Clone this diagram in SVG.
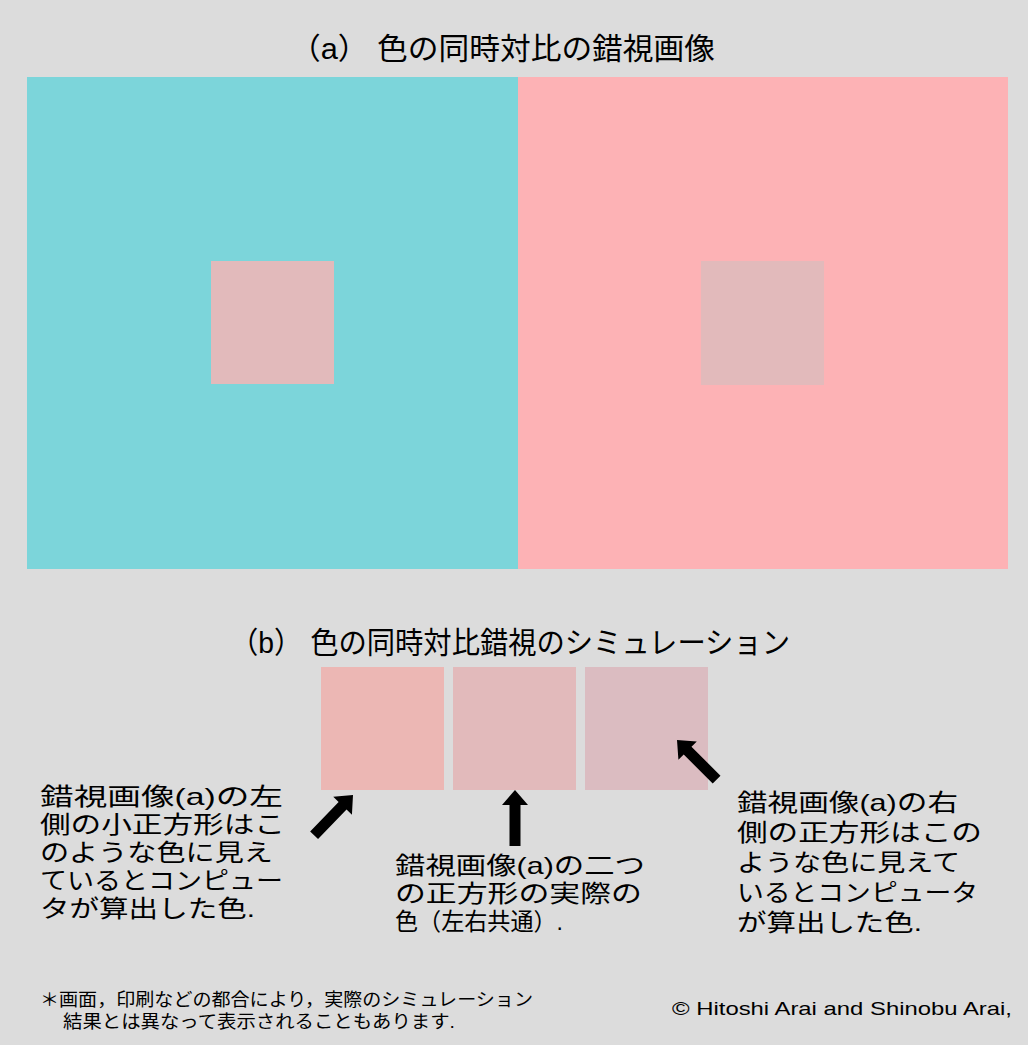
<svg xmlns="http://www.w3.org/2000/svg" width="1028" height="1045" viewBox="0 0 1028 1045">
<style>
.t{font-family:"Liberation Sans","Noto Sans CJK JP",sans-serif;fill:#000}
.ttl{font-size:30px}
.lbl{font-size:24px}
.note{font-size:18px}
.cr{font-family:"Liberation Sans",Arial,sans-serif;font-size:19px;fill:#000}
.arrow{fill:#000}
</style>
<defs>
<polygon id="arr" points="0,0 13,15 5.5,15 5.5,56 -5.5,56 -5.5,15 -13,15"/>
</defs>
<rect x="0" y="0" width="1028" height="1045" fill="#dcdcdc"/>
<text class="t ttl" x="290" y="59" textLength="425" lengthAdjust="spacingAndGlyphs">（a） 色の同時対比の錯視画像</text>
<g id="illusion-left">
<rect x="27" y="77" width="491" height="492" fill="#7cd5da"/>
<rect x="211" y="261" width="123" height="123" fill="#e2babb"/>
</g>
<g id="illusion-right">
<rect x="518" y="77" width="490" height="492" fill="#fdb2b5"/>
<rect x="701" y="261" width="123" height="124" fill="#e2babb"/>
</g>
<text class="t ttl" x="230" y="653" textLength="560" lengthAdjust="spacingAndGlyphs">（b） 色の同時対比錯視のシミュレーション</text>
<g id="sim-left"><rect x="321" y="667" width="123" height="123" fill="#ecb7b4"/></g>
<g id="sim-mid"><rect x="453" y="667" width="123" height="123" fill="#e2babb"/></g>
<g id="sim-right"><rect x="585" y="667" width="123" height="123" fill="#dbbcc1"/></g>
<g id="connectors" class="arrow">
<use href="#arr" transform="translate(353,795) rotate(44)"/>
<use href="#arr" transform="translate(515,790)"/>
<use href="#arr" transform="translate(677,740) rotate(-45)"/>
</g>
<g id="label-left" class="t lbl">
<text x="40" y="805" textLength="243" lengthAdjust="spacingAndGlyphs">錯視画像(a)の左</text>
<text x="40" y="833" textLength="245" lengthAdjust="spacingAndGlyphs">側の小正方形はこ</text>
<text x="40" y="861" textLength="233" lengthAdjust="spacingAndGlyphs">のような色に見え</text>
<text x="40" y="889" textLength="243" lengthAdjust="spacingAndGlyphs">ているとコンピュー</text>
<text x="40" y="917" textLength="215" lengthAdjust="spacingAndGlyphs">タが算出した色.</text>
</g>
<g id="label-mid" class="t lbl">
<text x="395" y="874" textLength="250" lengthAdjust="spacingAndGlyphs">錯視画像(a)の二つ</text>
<text x="395" y="902" textLength="247" lengthAdjust="spacingAndGlyphs">の正方形の実際の</text>
<text x="395" y="930" textLength="168" lengthAdjust="spacingAndGlyphs">色（左右共通）.</text>
</g>
<g id="label-right" class="t lbl">
<text x="737" y="811" textLength="221" lengthAdjust="spacingAndGlyphs">錯視画像(a)の右</text>
<text x="737" y="841" textLength="245" lengthAdjust="spacingAndGlyphs">側の正方形はこの</text>
<text x="737" y="871" textLength="223" lengthAdjust="spacingAndGlyphs">ような色に見えて</text>
<text x="737" y="901" textLength="241" lengthAdjust="spacingAndGlyphs">いるとコンピュータ</text>
<text x="737" y="931" textLength="185" lengthAdjust="spacingAndGlyphs">が算出した色.</text>
</g>
<g id="footnote" class="t note">
<text x="40" y="1006" textLength="493" lengthAdjust="spacingAndGlyphs">＊画面，印刷などの都合により，実際のシミュレーション</text>
<text x="63" y="1028" textLength="392" lengthAdjust="spacingAndGlyphs">結果とは異なって表示されることもあります.</text>
</g>
<text class="cr" x="672" y="1015" textLength="340" lengthAdjust="spacingAndGlyphs">© Hitoshi Arai and Shinobu Arai,</text>
</svg>
